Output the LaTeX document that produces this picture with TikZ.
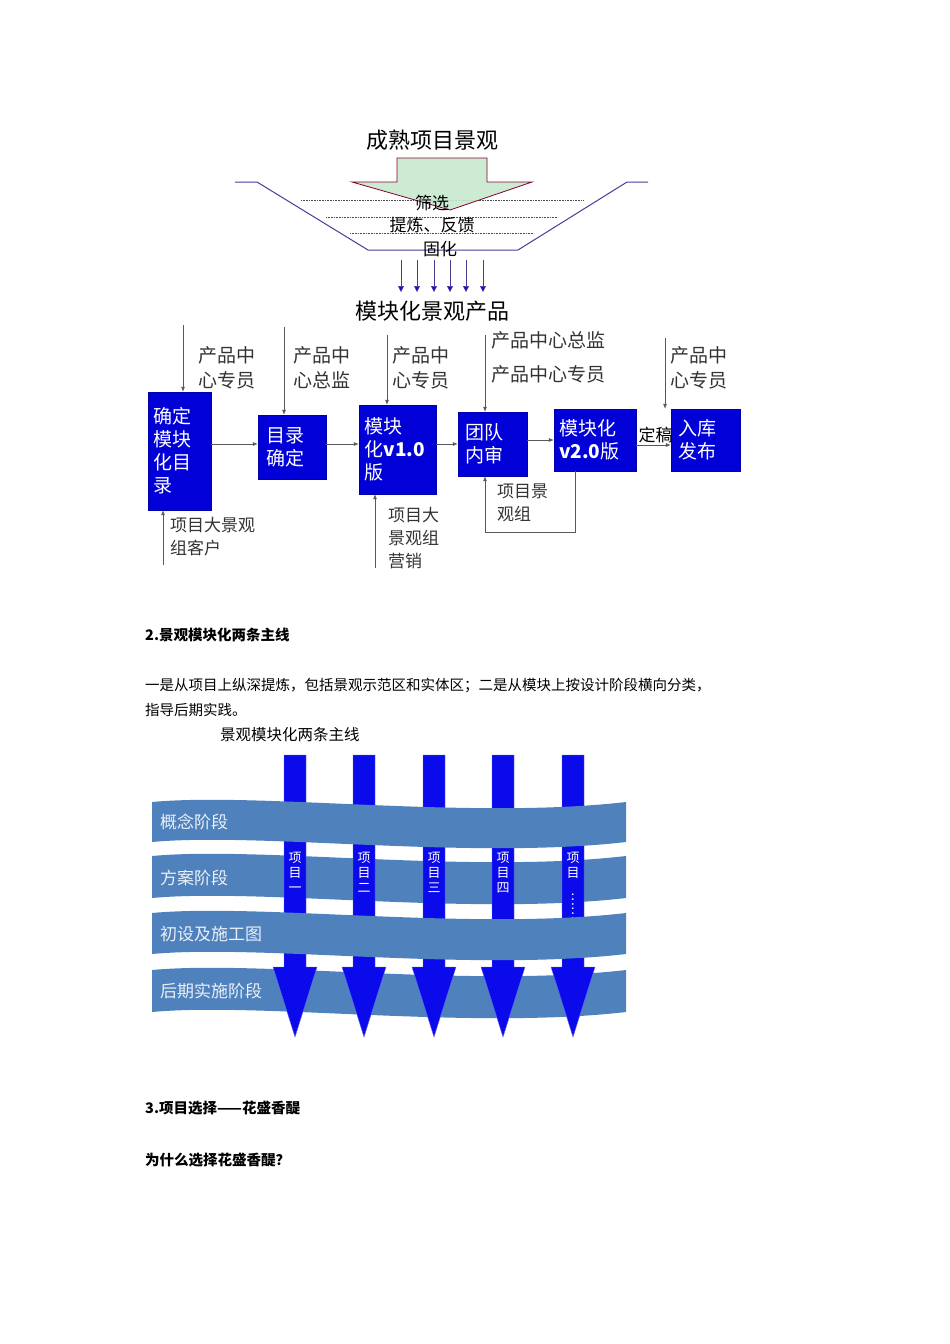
\documentclass[tikz,border=0pt]{standalone}
\usepackage{fontspec}
\setmainfont{Noto Sans CJK SC}
\usetikzlibrary{arrows.meta}
\definecolor{boxblue}{RGB}{0,0,215}
\definecolor{bandblue}{RGB}{79,129,189}
\definecolor{arrblue}{RGB}{10,10,235}
\definecolor{funnel}{RGB}{70,60,150}
\definecolor{lightgreen}{RGB}{200,232,205}
\tikzset{
  bx/.style={draw=boxblue!80!black,fill=boxblue,text=white,inner sep=0pt,align=left,font=\fontsize{19}{23}\selectfont},
  flow/.style={draw=gray!70!black,line width=0.7pt,-{Latex[length=5pt,width=4pt]}},
  lbl/.style={align=left,inner sep=0pt,font=\fontsize{19}{25}\selectfont,text=black!80},
  band/.style={fill=bandblue,draw=none},
  bandtxt/.style={anchor=west,text=white!88!bandblue,font=\fontsize{17}{20}\selectfont,inner sep=0pt},
  projarr/.style={fill=arrblue,draw=blue!60!white,line width=0.4pt},
  vtxt/.style={text=white,align=center,font=\fontsize{13}{15}\selectfont,inner sep=0pt},
  para/.style={anchor=west,inner sep=0pt,font=\fontsize{14.5}{18}\selectfont},
  dotl/.style={densely dotted,line width=0.6pt,gray!60!black},
  smallarr/.style={draw=funnel,line width=0.6pt,-{Triangle[length=6pt,width=6pt]},arrblue}
}
\begin{document}
\begin{tikzpicture}[x=1pt,y=-1pt]
\useasboundingbox (0,0) rectangle (950,1344);
% ---------- funnel ----------
\node (title) at (432,140) {\fontsize{22}{26}\selectfont 成熟项目景观};
\draw[funnel,line width=1pt] (235,182) -- (257,182) -- (368,250) -- (518,250) -- (627,182) -- (648,182);
\draw[dotl] (301,200) -- (583,200);
\draw[dotl] (326,217) -- (558,217);
\draw[dotl] (350,233) -- (534,233);
\draw[fill=lightgreen,draw=purple!70!black,line width=0.8pt,fill opacity=0.9]
  (397,158) -- (487,158) -- (487,182) -- (532,182) -- (450,210) -- (352,182) -- (397,182) -- cycle;
\node (s1) at (432,203) {\fontsize{17}{20}\selectfont 筛选};
\node (s2) at (432,225) {\fontsize{17}{20}\selectfont 提炼、反馈};
\node (s3) at (440,249) {\fontsize{17}{20}\selectfont 固化};
\node (prod) at (432,311) {\fontsize{22}{26}\selectfont 模块化景观产品};
\foreach \x in {401,417,434,450,466,483}{
  \coordinate (a\x) at (\x,260); \coordinate (b\x) at (\x,292);
  \draw[draw=funnel,line width=0.6pt,-{Triangle[length=6pt,width=6pt,fill=arrblue]}] (a\x) -- (b\x);
}
% ---------- process ----------
\node[bx,minimum width=63pt,minimum height=118pt,text width=52pt] (b1) at (179.5,451) {确定\\模块\\化目\\录};
\node[bx,minimum width=68pt,minimum height=64pt,text width=52pt] (b2) at (292,447) {目录\\确定};
\node[bx,minimum width=77pt,minimum height=89pt,text width=66pt] (b3) at (397.5,449.5) {模块\\化\textbf{v1.0}\\版};
\node[bx,minimum width=69pt,minimum height=64pt,text width=54pt] (b4) at (492.5,444) {团队\\内审};
\node[bx,minimum width=82pt,minimum height=62pt,text width=72pt] (b5) at (595,440) {模块化\\\textbf{v2.0}版};
\node[bx,minimum width=69pt,minimum height=62pt,text width=54pt] (b6) at (705.5,440) {入库\\发布};
\draw[flow] (b1.east |- 0,444) -- (b2.west |- 0,444);
\draw[flow] (b2.east |- 0,444) -- (b3.west |- 0,444);
\draw[flow] (b3.east |- 0,444) -- (b4.west |- 0,444);
\draw[flow] (b4.east |- 0,440) -- (b5.west |- 0,440);
\draw[flow] (b5.east |- 0,445) -- node[above=2pt,font=\fontsize{17}{20}\selectfont,inner sep=0pt,xshift=2pt] (dg) {定稿} (b6.west |- 0,445);
\coordinate (t1) at (183,325); \draw[flow] (t1) -- (b1.north -| t1);
\coordinate (t2) at (284,327); \draw[flow] (t2) -- (b2.north -| t2);
\coordinate (t3) at (387,335); \draw[flow] (t3) -- (b3.north -| t3);
\coordinate (t4) at (485,335); \draw[flow] (t4) -- (b4.north -| t4);
\coordinate (t6) at (665,338); \draw[flow] (t6) -- (b6.north -| t6);
\node[lbl,anchor=west] (l1) at (198,368) {产品中\\心专员};
\node[lbl,anchor=west] (l2) at (293,368) {产品中\\心总监};
\node[lbl,anchor=west] (l3) at (392,368) {产品中\\心专员};
\node[lbl,anchor=west] (l4a) at (491,340) {产品中心总监};
\node[lbl,anchor=west] (l4b) at (491,374) {产品中心专员};
\node[lbl,anchor=west] (l6) at (670,368) {产品中\\心专员};
\coordinate (u1) at (163,565); \draw[flow] (u1) -- (b1.south -| u1);
\coordinate (u3) at (375,568); \draw[flow] (u3) -- (b3.south -| u3);
\node[lbl,anchor=west,font=\fontsize{17}{23}\selectfont] (l7) at (170,537) {项目大景观\\组客户};
\node[lbl,anchor=west,font=\fontsize{17}{23}\selectfont] (l8) at (388,538) {项目大\\景观组\\营销};
\coordinate (f1) at (575,532); \coordinate (f2) at (485,532);
\draw[flow] (b5.south -| f1) -- (f1) -- (f2) -- (b4.south -| f2);
\node[lbl,anchor=west,font=\fontsize{17}{23}\selectfont] (l9) at (497,503) {项目景\\观组};
% ---------- text ----------
\node[para,font=\fontsize{14.5}{18}\selectfont\bfseries] (h2) at (145,635) {2.景观模块化两条主线};
\node[para] (p1) at (145,686) {一是从项目上纵深提炼，包括景观示范区和实体区；二是从模块上按设计阶段横向分类，};
\node[para] (p2) at (145,710) {指导后期实践。};
\node[para,font=\fontsize{15.5}{18}\selectfont] (cap) at (220,735) {景观模块化两条主线};
\node[para,font=\fontsize{14.5}{18}\selectfont\bfseries] (h3) at (145,1108) {3.项目选择——花盛香醍};
\node[para,font=\fontsize{14.5}{18}\selectfont\bfseries] (h4) at (145,1160) {为什么选择花盛香醍？};
% ---------- bands ----------
\newcommand{\wband}[2]{% #1 y0, #2 height
  \fill[band] (152,#1) .. controls (260,#1-10) and (470,#1+18) .. (626,#1)
    -- (626,#1+#2) .. controls (470,#1+#2+18) and (260,#1+#2-10) .. (152,#1+#2) -- cycle;}
\wband{856}{42}
\wband{970}{42}
\foreach \x/\t in {295/{项\\目\\一},364/{项\\目\\二},434/{项\\目\\三},503/{项\\目\\四},573/{项\\目\\\rotatebox{-90}{……}}}{
  \draw[projarr] (\x-11,755) -- (\x+11,755) -- (\x+11,967) -- (\x+22,967) -- (\x,1037) -- (\x-22,967) -- (\x-11,967) -- cycle;
  \node[vtxt,anchor=north] (v\x) at (\x,852) {\t};
}
\wband{802}{40}
\wband{913}{41}
\node[bandtxt] (g1) at (160,822) {概念阶段};
\node[bandtxt] (g2) at (160,878) {方案阶段};
\node[bandtxt] (g3) at (160,934) {初设及施工图};
\node[bandtxt] (g4) at (160,991) {后期实施阶段};
\end{tikzpicture}
\end{document}
